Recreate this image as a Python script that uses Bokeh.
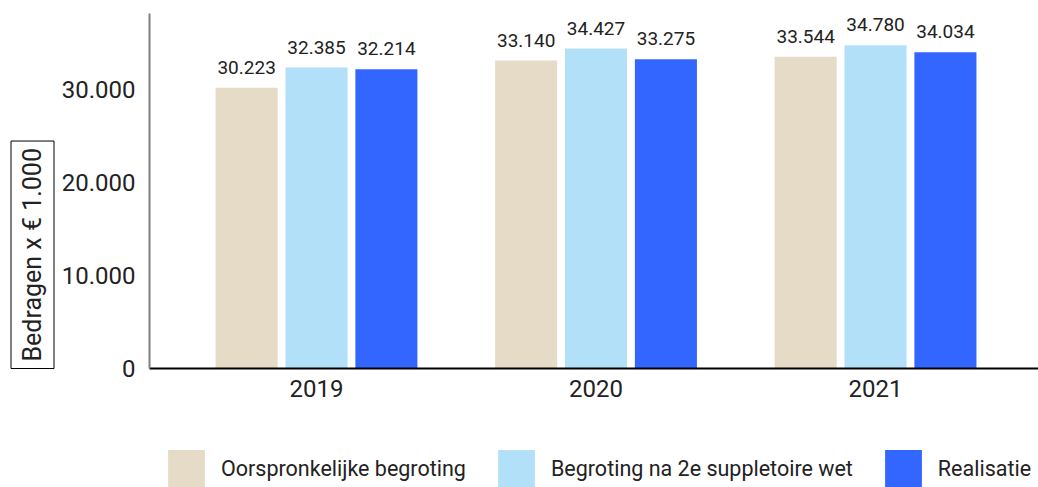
from bokeh.plotting import figure
from bokeh.layouts import column
from bokeh.models import ColumnDataSource, Range1d, FixedTicker, Legend, LegendItem, Title
from bokeh.core.properties import value
from bokeh.embed import file_html
from bokeh.resources import INLINE

years = ["2019", "2020", "2021"]
series_names = ["Oorspronkelijke begroting", "Begroting na 2e suppletoire wet", "Realisatie"]
oorspronkelijk = [30223, 33140, 33544]
suppletoir = [32385, 34427, 34780]
realisatie = [32214, 33275, 34034]
colors = ["#E5DBC7", "#B3E0F9", "#3366FF"]
y_ticks = [0, 10000, 20000, 30000]
y_label = "Bedragen x € 1.000"

FONT = "Roboto"
TXT = "#222222"


def fmt(v):
    return f"{v:,}".replace(",", ".")


p = figure(frame_width=889, frame_height=355,
           min_border_left=149, min_border_right=0, min_border_top=13, min_border_bottom=45,
           x_range=Range1d(-0.5975, 2.583), y_range=Range1d(0, 38200),
           output_backend="svg", toolbar_location=None)
p.outline_line_color = None
p.xgrid.visible = False
p.ygrid.visible = False

xs = list(range(len(years)))
offsets = [-0.25, 0.0, 0.25]
for vals, off, col in zip([oorspronkelijk, suppletoir, realisatie], offsets, colors):
    src = ColumnDataSource(dict(x=[x + off for x in xs], top=vals, lab=[fmt(v) for v in vals]))
    p.vbar(x="x", top="top", width=0.222, source=src, fill_color=col, line_color=None)
    p.text(x="x", y="top", text="lab", source=src, text_align="center", text_baseline="bottom",
           y_offset=-14, text_font=value(FONT), text_font_size="19px", text_color=TXT)

# x axis
p.xaxis.ticker = FixedTicker(ticks=xs)
p.xaxis.major_label_overrides = {x: y for x, y in zip(xs, years)}
p.xaxis.major_label_text_font = FONT
p.xaxis.major_label_text_font_size = "24px"
p.xaxis.major_label_text_color = TXT
p.xaxis.major_label_standoff = 5
p.xaxis.major_tick_line_color = None
p.xaxis.minor_tick_line_color = None
p.xaxis.axis_line_color = "black"
p.xaxis.axis_line_width = 2

# y axis
p.yaxis.ticker = FixedTicker(ticks=y_ticks)
p.yaxis.major_label_overrides = {t: fmt(t) for t in y_ticks}
p.yaxis.major_label_text_font = FONT
p.yaxis.major_label_text_font_size = "24px"
p.yaxis.major_label_text_color = TXT
p.yaxis.major_label_standoff = 8
p.yaxis.major_tick_line_color = None
p.yaxis.minor_tick_line_color = None
p.yaxis.axis_line_color = "#808080"
p.yaxis.axis_line_width = 2

title = Title(text=y_label, align="left",
              text_font=FONT, text_font_size="25px", text_font_style="normal", text_color=TXT,
              border_line_color="black", border_line_width=1,
              background_fill_color="white", padding=7, standoff=9)
p.add_layout(title, "left")

# legend in its own strip below the chart
lg = figure(width=1038, height=74, x_range=Range1d(0, 1), y_range=Range1d(0, 1),
            x_axis_type=None, y_axis_type=None, min_border=0,
            output_backend="svg", toolbar_location=None)
lg.outline_line_color = None
lg.xgrid.visible = False
lg.ygrid.visible = False
items = []
for name, col in zip(series_names, colors):
    r = lg.vbar(x=[0], top=[0], bottom=[0], width=0, fill_color=col, line_color=None)
    items.append(LegendItem(label=name, renderers=[r]))
legend = Legend(items=items, orientation="horizontal", location=(14, -4),
                glyph_width=46, glyph_height=46, label_text_font=FONT,
                label_text_font_size="21.5px", label_text_color=TXT,
                spacing=27, label_standoff=12, border_line_color=None,
                background_fill_alpha=0, padding=0, margin=0)
lg.add_layout(legend)

layout = column(p, lg, spacing=0)
open("out.html", "w").write(file_html(layout, INLINE))
